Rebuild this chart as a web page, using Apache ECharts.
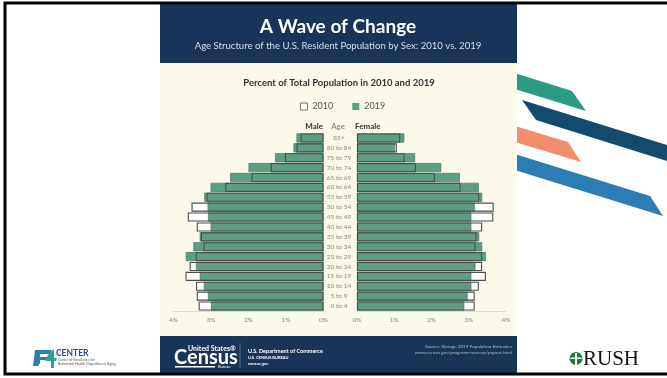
<!DOCTYPE html>
<html><head><meta charset="utf-8">
<script src="https://cdn.jsdelivr.net/npm/echarts@6/dist/echarts.min.js"></script>
<style>html,body{margin:0;padding:0;background:#fff}#c{width:667px;height:378px}</style>
</head><body><div id="c"></div>
<script>
const ages = ['0 to 4','5 to 9','10 to 14','15 to 19','20 to 24','25 to 29','30 to 34','35 to 39','40 to 44','45 to 49','50 to 54','55 to 59','60 to 64','65 to 69','70 to 74','75 to 79','80 to 84','85+'];
const male2010 = [3.33,3.38,3.40,3.68,3.57,3.41,3.20,3.27,3.38,3.62,3.52,3.12,2.62,1.92,1.41,1.03,0.72,0.61];
const male2019 = [3.00,3.08,3.19,3.30,3.40,3.67,3.47,3.30,3.01,3.08,3.09,3.18,3.01,2.49,2.00,1.29,0.80,0.72];
const female2010 = [3.16,3.16,3.27,3.46,3.36,3.36,3.18,3.21,3.36,3.66,3.67,3.28,2.78,2.09,1.58,1.28,1.07,1.16];
const female2019 = [2.88,2.97,3.07,3.07,3.18,3.46,3.36,3.28,3.07,3.07,3.16,3.36,3.27,2.76,2.26,1.56,1.02,1.27];
const xTicks = [0,1,2,3,4];

const GREEN = '#5c9d83', NAVY = '#1a3358', CREAM = '#fbf9ea', EDGE = '#4a4f4c';
const FONT = 'Lato';
const chart = echarts.init(document.getElementById('c'), null, {renderer:'canvas'});

function sideSeries(idx, d10, d19) {
  return [
    {type:'bar', name:'2010f', xAxisIndex:idx, yAxisIndex:idx, data:d10, barWidth:'92%', barGap:'-100%', z:1,
     itemStyle:{color:'#ffffff'}, silent:true, legendHoverLink:false},
    {type:'bar', name:'2019', xAxisIndex:idx, yAxisIndex:idx, data:d19, barWidth:'92%', barGap:'-100%', z:2,
     itemStyle:{color:GREEN, borderColor:'#46705f', borderWidth:0.6}},
    {type:'bar', name:'2010', xAxisIndex:idx, yAxisIndex:idx, data:d10, barWidth:'92%', barGap:'-100%', z:3,
     itemStyle:{color:'rgba(0,0,0,0)', borderColor:EDGE, borderWidth:1.1}}
  ];
}
const stripes = [
  {pts:[[505,70],[572,91],[586,111],[505,86]], c:'#2a9b84'},
  {pts:[[522,100],[667,145],[667,161],[536,120]], c:'#154a6f'},
  {pts:[[505,123],[568,142],[581,162],[505,139]], c:'#f28e6e'},
  {pts:[[505,151],[650,196],[663,216],[505,167]], c:'#2b7db4'}
];
const g = [];
g.push({type:'rect', shape:{x:0,y:0,width:667,height:378}, style:{fill:'#ffffff'}, z:-10});
stripes.forEach(s=>g.push({type:'polygon', shape:{points:s.pts}, style:{fill:s.c}, z:-9}));
g.push({type:'rect', shape:{x:160,y:62,width:357,height:275}, style:{fill:CREAM}, z:-8});
g.push({type:'rect', shape:{x:160,y:3,width:357,height:60}, style:{fill:NAVY}, z:-7});
g.push({type:'rect', shape:{x:160,y:336,width:357,height:38}, style:{fill:NAVY}, z:-7});
// slide frame
g.push({type:'rect', shape:{x:5,y:3,width:670,height:371}, style:{fill:'none', stroke:'#000', lineWidth:3}, z:50});
// header text
g.push({type:'text', x:338, y:27, style:{text:'A Wave of Change', fill:'#fff', font:'bold 19px '+FONT, align:'center', verticalAlign:'middle'}, z:10});
g.push({type:'text', x:338, y:46, style:{text:'Age Structure of the U.S. Resident Population by Sex: 2010 vs. 2019', fill:'#d9dee8', font:'9.6px '+FONT, align:'center', verticalAlign:'middle'}, z:10});
g.push({type:'text', x:339, y:83, style:{text:'Percent of Total Population in 2010 and 2019', fill:'#333', font:'bold 9.5px '+FONT, align:'center', verticalAlign:'middle'}, z:10});
g.push({type:'text', x:323, y:126, style:{text:'Male', fill:'#333', font:'bold 8px '+FONT, align:'right', verticalAlign:'middle'}, z:10});
g.push({type:'text', x:338, y:126, style:{text:'Age', fill:'#777', font:'8px '+FONT, align:'center', verticalAlign:'middle'}, z:10});
g.push({type:'text', x:355, y:126, style:{text:'Female', fill:'#333', font:'bold 8px '+FONT, align:'left', verticalAlign:'middle'}, z:10});
// footer
g.push({type:'text', x:188, y:349, style:{text:'United States\u00ae', fill:'#fff', font:'bold 7px '+FONT, align:'left', verticalAlign:'middle'}, z:10});
g.push({type:'text', x:174, y:358, style:{text:'Census', fill:'#fff', font:'bold 20px '+FONT, align:'left', verticalAlign:'middle'}, z:10});
g.push({type:'rect', shape:{x:175,y:366,width:40,height:1.5}, style:{fill:'#fff'}, z:10});
g.push({type:'text', x:218, y:367, style:{text:'Bureau', fill:'#fff', font:'4px '+FONT, align:'left', verticalAlign:'middle'}, z:10});
g.push({type:'line', shape:{x1:240,y1:343,x2:240,y2:368}, style:{stroke:'#6a7c9a', lineWidth:0.8}, z:10});
g.push({type:'text', x:248, y:351, style:{text:'U.S. Department of Commerce', fill:'#fff', font:'bold 5.5px '+FONT, align:'left', verticalAlign:'middle'}, z:10});
g.push({type:'text', x:248, y:357.5, style:{text:'U.S. CENSUS BUREAU', fill:'#fff', font:'bold 4px '+FONT, align:'left', verticalAlign:'middle'}, z:10});
g.push({type:'text', x:248, y:363.5, style:{text:'census.gov', fill:'#fff', font:'italic bold 4.5px '+FONT, align:'left', verticalAlign:'middle'}, z:10});
g.push({type:'text', x:512, y:347, style:{text:'Source: Vintage 2019 Population Estimates', fill:'#aeb8c9', font:'4.6px '+FONT, align:'right', verticalAlign:'middle'}, z:10});
g.push({type:'text', x:512, y:352.5, style:{text:'www.census.gov/programs-surveys/popest.html', fill:'#aeb8c9', font:'4.6px '+FONT, align:'right', verticalAlign:'middle'}, z:10});
// E4 CENTER logo
g.push({type:'polygon', shape:{points:[[35,350],[52,350],[50,354],[40,354],[40,357],[48,357],[47,360],[40,360],[40,363],[38,366],[33,366]]}, style:{fill:'#2a7fb0'}, z:10});
g.push({type:'polygon', shape:{points:[[48,355],[54,349],[54,358],[57,358],[56,361],[54,361],[54,368],[51,368],[51,361],[45,361]]}, style:{fill:'#2ea38a'}, z:11});
g.push({type:'text', x:56, y:353, style:{text:'CENTER', fill:'#2b4a7d', font:'bold 8.5px '+FONT, align:'left', verticalAlign:'middle'}, z:10});
g.push({type:'text', x:58, y:360, style:{text:'Center of Excellence for', fill:'#555', font:'3.5px '+FONT, align:'left', verticalAlign:'middle'}, z:10});
g.push({type:'text', x:58, y:364, style:{text:'Behavioral Health Disparities in Aging', fill:'#555', font:'3.5px '+FONT, align:'left', verticalAlign:'middle'}, z:10});
// RUSH logo
g.push({type:'circle', shape:{cx:576,cy:358.5,r:6.5}, style:{fill:'#1d7a3e'}, z:10});
g.push({type:'rect', shape:{x:575,y:353,width:2,height:12}, style:{fill:'#fff'}, z:11});
g.push({type:'rect', shape:{x:570.5,y:357.5,width:11,height:1.5}, style:{fill:'#fff'}, z:11});
g.push({type:'text', x:583, y:359, style:{text:'RUSH', fill:'#111', font:'21px "Liberation Serif"', align:'left', verticalAlign:'middle'}, z:10});

const axisLabelStyle = {fontSize:6.5, color:'#8a8a80', fontFamily:FONT, formatter:'{value}%', margin:5};
const option = {
  animation:false,
  backgroundColor:'transparent',
  graphic:{elements:g},
  legend:{
    selectedMode:false, top:97, left:295, itemWidth:7, itemHeight:7, itemGap:19,
    textStyle:{fontSize:9, color:'#555', fontFamily:FONT},
    data:[{name:'2010', icon:'rect', itemStyle:{color:'#fff', borderColor:'#555', borderWidth:0.8}},
          {name:'2019', icon:'rect', itemStyle:{color:GREEN, borderWidth:0}}]
  },
  grid:[
    {left:173.5, right:343.5, top:133, height:178},
    {left:357, right:161, top:133, height:178}
  ],
  xAxis:[
    {gridIndex:0, type:'value', min:xTicks[0], max:xTicks[xTicks.length-1], interval:1, inverse:true,
     axisLabel:axisLabelStyle, axisLine:{show:true, lineStyle:{color:'#d6d4c4', width:0.8}}, axisTick:{show:false}, splitLine:{show:false}},
    {gridIndex:1, type:'value', min:xTicks[0], max:xTicks[xTicks.length-1], interval:1,
     axisLabel:axisLabelStyle, axisLine:{show:true, lineStyle:{color:'#d6d4c4', width:0.8}}, axisTick:{show:false}, splitLine:{show:false}}
  ],
  yAxis:[
    {gridIndex:0, type:'category', data:ages, axisLabel:{show:false}, axisLine:{show:false}, axisTick:{show:false}},
    {gridIndex:1, type:'category', data:ages, axisLine:{show:false}, axisTick:{show:false},
     axisLabel:{show:true, align:'center', margin:18, fontSize:6.5, color:'#8a8a80', fontFamily:FONT}}
  ],
  series:[...sideSeries(0, male2010, male2019), ...sideSeries(1, female2010, female2019)]
};
chart.setOption(option);
</script></body></html>
